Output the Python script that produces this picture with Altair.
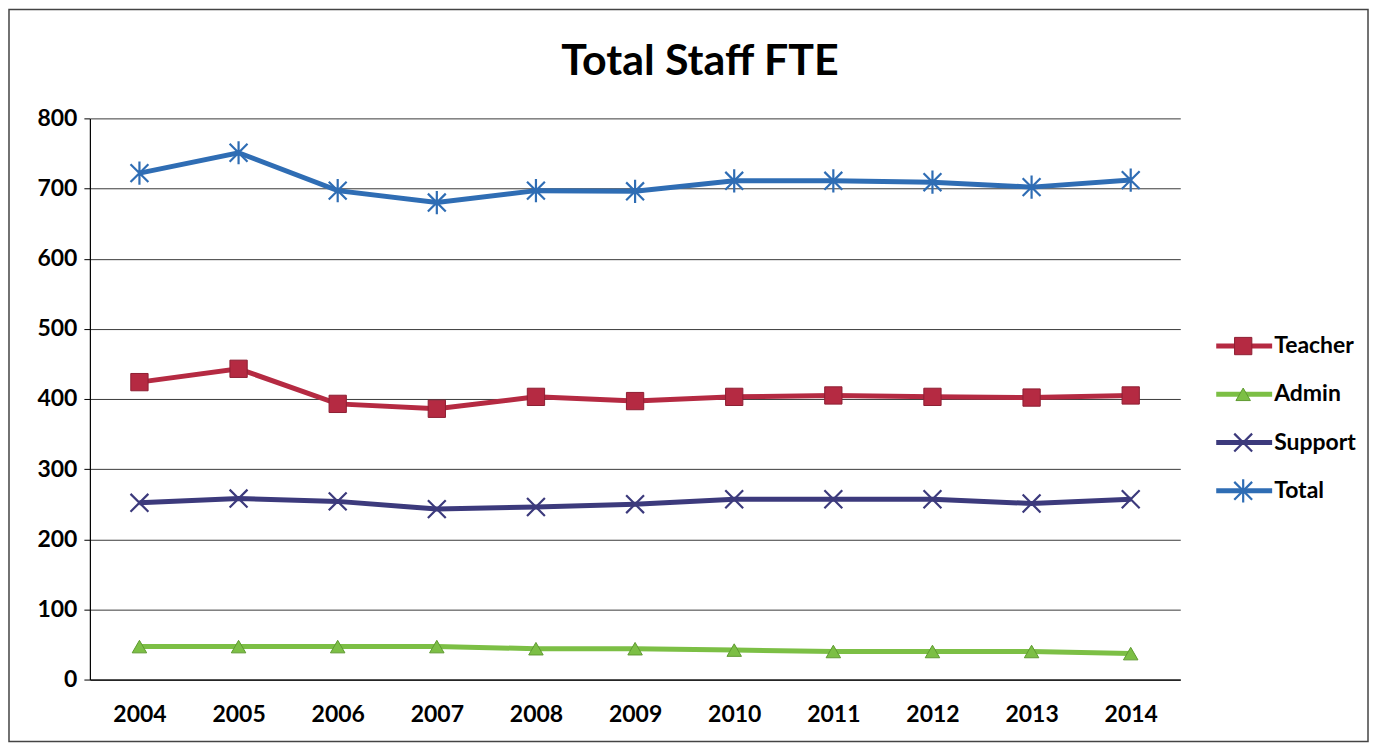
import altair as alt
import pandas as pd

title_text = "Total Staff FTE"
years = [2004, 2005, 2006, 2007, 2008, 2009, 2010, 2011, 2012, 2013, 2014]
teacher = [424, 443, 393, 386, 403, 397, 403, 405, 403, 402, 405]
admin = [47, 47, 47, 47, 44, 44, 42, 40, 40, 40, 37]
support = [252, 258, 254, 243, 246, 250, 257, 257, 257, 251, 257]
total = [722, 751, 697, 680, 697, 696, 711, 711, 709, 702, 712]

names = ["Teacher", "Admin", "Support", "Total"]
colors = ["#B52A42", "#7CBF45", "#3C3A7C", "#2F6DB4"]

rows = []
for name, vals in zip(names, [teacher, admin, support, total]):
    for yr, v in zip(years, vals):
        rows.append({"year": str(yr), "value": v, "series": name})
df = pd.DataFrame(rows)

FONT = "Lato"
WEIGHT = "bold"
LABEL_SIZE = 23
color = alt.Color("series:N", scale=alt.Scale(domain=names, range=colors), legend=None)

X_PATH = "M-1,-1L1,1M-1,1L1,-1"
AST_PATH = "M-1,-1L1,1M-1,1L1,-1M0,-1.3L0,1.3"

marker_styles = {
    "Teacher": dict(shape="square", filled=True, size=300, strokeWidth=1, stroke="#8E1F33"),
    "Admin": dict(shape="triangle-up", filled=True, size=210, strokeWidth=1, stroke="#5E9A30"),
    "Support": dict(shape=X_PATH, filled=False, size=320, strokeWidth=2.2),
    "Total": dict(shape=AST_PATH, filled=False, size=320, strokeWidth=2.2),
}

x_enc = alt.X("year:O", scale=alt.Scale(type="point", padding=0.5),
              axis=alt.Axis(title=None, labelAngle=0, ticks=False, labelFontSize=LABEL_SIZE,
                            labelFont=FONT, labelFontWeight=WEIGHT, labelColor="black",
                            labelPadding=24, domainColor="black", domainWidth=1.2, grid=False))
y_enc = alt.Y("value:Q", scale=alt.Scale(domain=[0, 800], nice=False, zero=True),
              axis=alt.Axis(title=None, values=list(range(0, 801, 100)), grid=True,
                            gridColor="#3a3a3a", gridWidth=1, domainColor="black",
                            domainWidth=1.2, tickSize=6, tickColor="black",
                            labelFontSize=LABEL_SIZE, labelFont=FONT, labelFontWeight=WEIGHT,
                            labelColor="black", labelPadding=7))

base = alt.Chart(df).encode(x=x_enc, y=y_enc, color=color)
lines = base.mark_line(strokeWidth=5)
marker_layers = [
    base.transform_filter(alt.datum.series == n).mark_point(opacity=1, **marker_styles[n])
    for n in names
]
main = alt.layer(lines, *marker_layers)

leg_df = pd.DataFrame({"series": names, "row": [0, 1, 2, 3]})
leg_y = alt.Y("row:Q", scale=alt.Scale(domain=[0, 3], range=[228, 373], nice=False, zero=False), axis=None)
leg_base = alt.Chart(leg_df).encode(y=leg_y, color=color)
leg_line = leg_base.mark_rule(strokeWidth=5).encode(x=alt.value(1128), x2=alt.value(1184))
leg_marks = [
    leg_base.transform_filter(alt.datum.series == n).mark_point(opacity=1, **marker_styles[n]).encode(x=alt.value(1155))
    for n in names
]
leg_text = alt.Chart(leg_df).mark_text(align="left", baseline="middle", fontSize=LABEL_SIZE, font=FONT,
                                       fontWeight=WEIGHT, color="black").encode(
    x=alt.value(1186), y=leg_y, text="series:N")
legend = alt.layer(leg_line, *leg_marks, leg_text)

misc_df = pd.DataFrame({"label": [title_text]})
frame = alt.Chart(misc_df).mark_rect(filled=False, stroke="#444444", strokeWidth=1.5).encode(
    x=alt.value(-81), x2=alt.value(1280), y=alt.value(-109), y2=alt.value(624))
title = alt.Chart(misc_df).mark_text(align="center", baseline="alphabetic", fontSize=43, font=FONT,
                                     fontWeight="bold", color="black").encode(
    x=alt.value(611), y=alt.value(-43), text="label:N")

chart = alt.layer(main, legend, frame, title).resolve_scale(y="independent").properties(
    width=1092, height=562,
    autosize=alt.AutoSizeParams(type="none"),
    padding={"left": 82, "top": 110, "right": 190, "bottom": 64},
).configure_view(stroke=None)

chart.save("out.html", embed_options={"renderer": "svg", "actions": False})
